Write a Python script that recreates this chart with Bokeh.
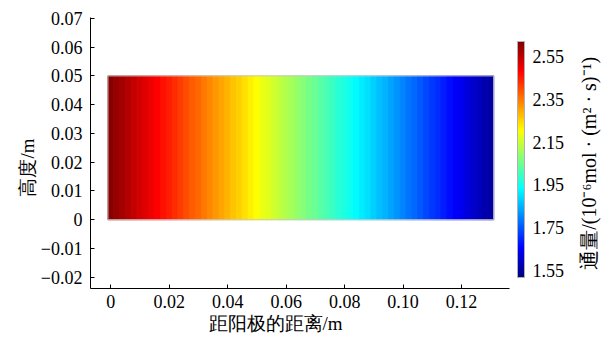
import math
from bokeh.plotting import figure
from bokeh.layouts import row
from bokeh.models import (Range1d, LinearColorMapper, ColorBar, FixedTicker,
                          ColumnDataSource, LinearAxis, Title)
from bokeh.core.properties import value
from bokeh.embed import file_html
from bokeh.resources import INLINE

# ---- data ----
distance_m = [0.000, 0.002, 0.004, 0.006, 0.008, 0.010, 0.012, 0.014, 0.016, 0.018,
              0.020, 0.022, 0.024, 0.026, 0.028, 0.030, 0.032, 0.034, 0.036, 0.038,
              0.040, 0.042, 0.044, 0.046, 0.048, 0.050, 0.052, 0.054, 0.056, 0.058,
              0.060, 0.062, 0.064, 0.066, 0.068, 0.070, 0.072, 0.074, 0.076, 0.078,
              0.080, 0.082, 0.084, 0.086, 0.088, 0.090, 0.092, 0.094, 0.096, 0.098,
              0.100, 0.102, 0.104, 0.106, 0.108, 0.110, 0.112, 0.114, 0.116, 0.118,
              0.120, 0.122, 0.124, 0.126, 0.128, 0.130]
flux = [2.610, 2.594, 2.578, 2.561, 2.545, 2.529, 2.513, 2.497, 2.480, 2.464,
        2.448, 2.432, 2.416, 2.399, 2.383, 2.367, 2.351, 2.335, 2.318, 2.302,
        2.286, 2.270, 2.254, 2.237, 2.221, 2.205, 2.189, 2.173, 2.156, 2.140,
        2.124, 2.108, 2.092, 2.075, 2.059, 2.043, 2.027, 2.011, 1.994, 1.978,
        1.962, 1.946, 1.930, 1.913, 1.897, 1.881, 1.865, 1.849, 1.832, 1.816,
        1.800, 1.784, 1.768, 1.751, 1.735, 1.719, 1.703, 1.687, 1.670, 1.654,
        1.638, 1.622, 1.606, 1.589, 1.573, 1.557]
cell_width = 0.002
height_bottom = 0.0
height_top = 0.05
flux_low, flux_high = 1.517, 2.620

x_ticks = [0, 0.02, 0.04, 0.06, 0.08, 0.10, 0.12]
x_tick_labels = ["0", "0.02", "0.04", "0.06", "0.08", "0.10", "0.12"]
y_ticks = [-0.02, -0.01, 0, 0.01, 0.02, 0.03, 0.04, 0.05, 0.06, 0.07]
y_tick_labels = ["\u22120.02", "\u22120.01", "0", "0.01", "0.02", "0.03", "0.04", "0.05", "0.06", "0.07"]
cb_ticks = [1.55, 1.75, 1.95, 2.15, 2.35, 2.55]
x_title = "距阳极的距离/m"
y_title = "高度/m"
cb_title = "通量/(10\u207b\u2076mol \u00b7 (m\u00b2 \u00b7 s)\u207b\u00b9)"

# ---- jet palette ----
def jet(t):
    def c(v):
        return max(0.0, min(1.0, v))
    r = c(1.5 - abs(4 * t - 3))
    g = c(1.5 - abs(4 * t - 2))
    b = c(1.5 - abs(4 * t - 1))
    return "#%02x%02x%02x" % (int(r * 255), int(g * 255), int(b * 255))

palette = [jet(i / 255) for i in range(256)]
mapper = LinearColorMapper(palette=palette, low=flux_low, high=flux_high)

SERIF = "Liberation Serif"
FS = "18px"
FS_T = "19px"
W_MAIN, W_SIDE, H = 577, 30, 342

p = figure(width=W_MAIN, height=H, output_backend="svg", toolbar_location=None,
           x_range=Range1d(-0.00696, 0.1364), y_range=Range1d(-0.0239, 0.0703),
           min_border_left=90, min_border_top=17, min_border_bottom=54, min_border_right=68,
           x_axis_location=None, y_axis_location=None)
p.outline_line_color = None
p.grid.visible = False
p.background_fill_color = "white"
p.border_fill_color = "white"

src = ColumnDataSource(dict(x=distance_m, v=flux,
                            y=[(height_bottom + height_top) / 2] * len(flux)))
p.rect(x="x", y="y", width=cell_width, height=height_top - height_bottom, source=src,
       fill_color={"field": "v", "transform": mapper},
       line_color={"field": "v", "transform": mapper}, line_width=1)
p.quad(left=[distance_m[0] - cell_width / 2], right=[distance_m[-1] + cell_width / 2],
       bottom=[height_bottom], top=[height_top], fill_color=None,
       line_color="#c8c8c8", line_width=1)

def style_axis(ax):
    ax.major_tick_in = 4
    ax.major_tick_out = 0
    ax.minor_tick_in = 0
    ax.minor_tick_out = 0
    ax.axis_line_color = "black"
    ax.major_tick_line_color = "black"
    ax.major_label_text_font = SERIF
    ax.major_label_text_font_size = FS
    ax.major_label_text_color = "black"

xa = LinearAxis(ticker=FixedTicker(ticks=x_ticks),
                major_label_overrides=dict(zip(x_ticks, x_tick_labels)))
style_axis(xa)
xa.major_label_standoff = 6
p.add_layout(xa, "below")

ya = LinearAxis(ticker=FixedTicker(ticks=y_ticks),
                major_label_overrides=dict(zip(y_ticks, y_tick_labels)))
style_axis(ya)
ya.major_label_standoff = 8
p.add_layout(ya, "left")

p.add_layout(Title(text=x_title, align="left", offset=118, standoff=0,
                   text_font=SERIF, text_font_size=FS_T, text_font_style="normal",
                   text_color="black"), "below")
p.add_layout(Title(text=y_title, align="left", offset=92, standoff=0,
                   text_font=SERIF, text_font_size=FS_T, text_font_style="normal",
                   text_color="black"), "left")

cb = ColorBar(color_mapper=mapper, ticker=FixedTicker(ticks=cb_ticks),
              width=7, height=236, location=(0, 3), margin=0, padding=8,
              major_tick_line_color=None, bar_line_color="#b0b0b0",
              major_label_text_font=SERIF, major_label_text_font_size=FS,
              major_label_text_color="black", label_standoff=8,
              background_fill_color=None, border_line_color=None)
p.add_layout(cb, "right")

# side strip holding the vertical colour-bar title
s = figure(width=W_SIDE, height=H, output_backend="svg", toolbar_location=None,
           x_range=Range1d(0, W_SIDE), y_range=Range1d(0, H),
           min_border=0, x_axis_location=None, y_axis_location=None)
s.outline_line_color = None
s.grid.visible = False
s.background_fill_color = "white"
s.border_fill_color = "white"
s.text(x=[11], y=[H - 184], text=[cb_title], angle=math.pi / 2,
       text_align="center", text_baseline="middle",
       text_font=value(SERIF), text_font_size="20px", text_color="black")

layout = row(p, s, spacing=0)
open("out.html", "w").write(file_html(layout, INLINE))
